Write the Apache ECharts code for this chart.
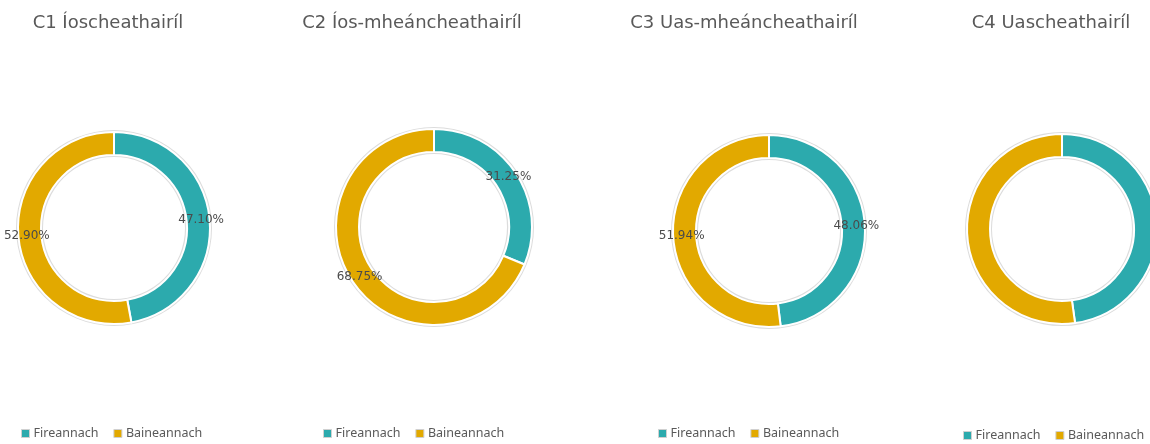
<!DOCTYPE html>
<html>
<head>
<meta charset="utf-8">
<script src="https://cdn.jsdelivr.net/npm/echarts@6/dist/echarts.min.js"></script>
<style>
  html, body {margin: 0; padding: 0; background: #fff;}
  #chart {width: 1150px; height: 444px;}
</style>
</head>
<body>
<div id="chart"></div>
<script>
const titles = ['C1 Íoscheathairíl', 'C2 Íos-mheáncheathairíl', 'C3 Uas-mheáncheathairíl', 'C4 Uascheathairíl'];
const categories = ['Fireannach', 'Baineannach'];
const fireannach = [47.10, 31.25, 48.06, 47.8];
const baineannach = [52.90, 68.75, 51.94, 52.2];
const showLabels = [true, true, true, false];

const colors = ['#2caaad', '#e2a900'];
const textColor = '#595959';

// panel layout: title centre, donut centre/radius, legend left/top
const panels = [
  {titleX: 103, cx: 114, cy: 228, r: 96, legendX: 16, legendY: 422},
  {titleX: 407, cx: 434, cy: 227, r: 98, legendX: 318, legendY: 422},
  {titleX: 739, cx: 769, cy: 231, r: 96, legendX: 653, legendY: 422},
  {titleX: 1046, cx: 1062, cy: 229, r: 95, legendX: 958, legendY: 424}
];

const chart = echarts.init(document.getElementById('chart'));

const title = [];
const legend = [];
const series = [];

panels.forEach((p, i) => {
  const inner = p.r - 23;
  title.push({
    text: titles[i],
    left: p.titleX,
    top: 9,
    textAlign: 'center',
    textStyle: {
      fontFamily: 'DejaVu Sans',
      fontSize: 18,
      fontWeight: 'normal',
      color: textColor
    }
  });
  legend.push({
    data: categories,
    left: p.legendX,
    top: p.legendY,
    icon: 'rect',
    itemWidth: 8,
    itemHeight: 8,
    itemGap: 15,
    itemStyle: {borderColor: '#d0d0d0', borderWidth: 1},
    textStyle: {fontFamily: 'Noto Sans', fontSize: 12.5, color: textColor, padding: [0, 0, 0, -1]}
  });
  // thin grey outline behind the ring
  series.push({
    type: 'pie',
    silent: true,
    center: [p.cx, p.cy],
    radius: [inner - 2, p.r + 2],
    label: {show: false},
    labelLine: {show: false},
    itemStyle: {color: '#dcdcdc'},
    data: [{name: 'outline', value: 1}],
    z: 1
  });
  series.push({
    type: 'pie',
    center: [p.cx, p.cy],
    radius: [inner, p.r],
    startAngle: 90,
    clockwise: true,
    z: 2,
    itemStyle: {borderColor: '#fff', borderWidth: 2},
    label: {
      show: showLabels[i],
      position: 'inside',
      fontFamily: 'DejaVu Sans',
      fontSize: 12,
      color: '#4a4a4a',
      formatter: d => d.value.toFixed(2) + '%'
    },
    labelLine: {show: false},
    emphasis: {scale: false},
    data: [
      {name: categories[0], value: fireannach[i], itemStyle: {color: colors[0]}},
      {name: categories[1], value: baineannach[i], itemStyle: {color: colors[1]}}
    ]
  });
});

chart.setOption({
  backgroundColor: '#fff',
  animation: false,
  color: colors,
  title,
  legend,
  series
});
</script>
</body>
</html>
